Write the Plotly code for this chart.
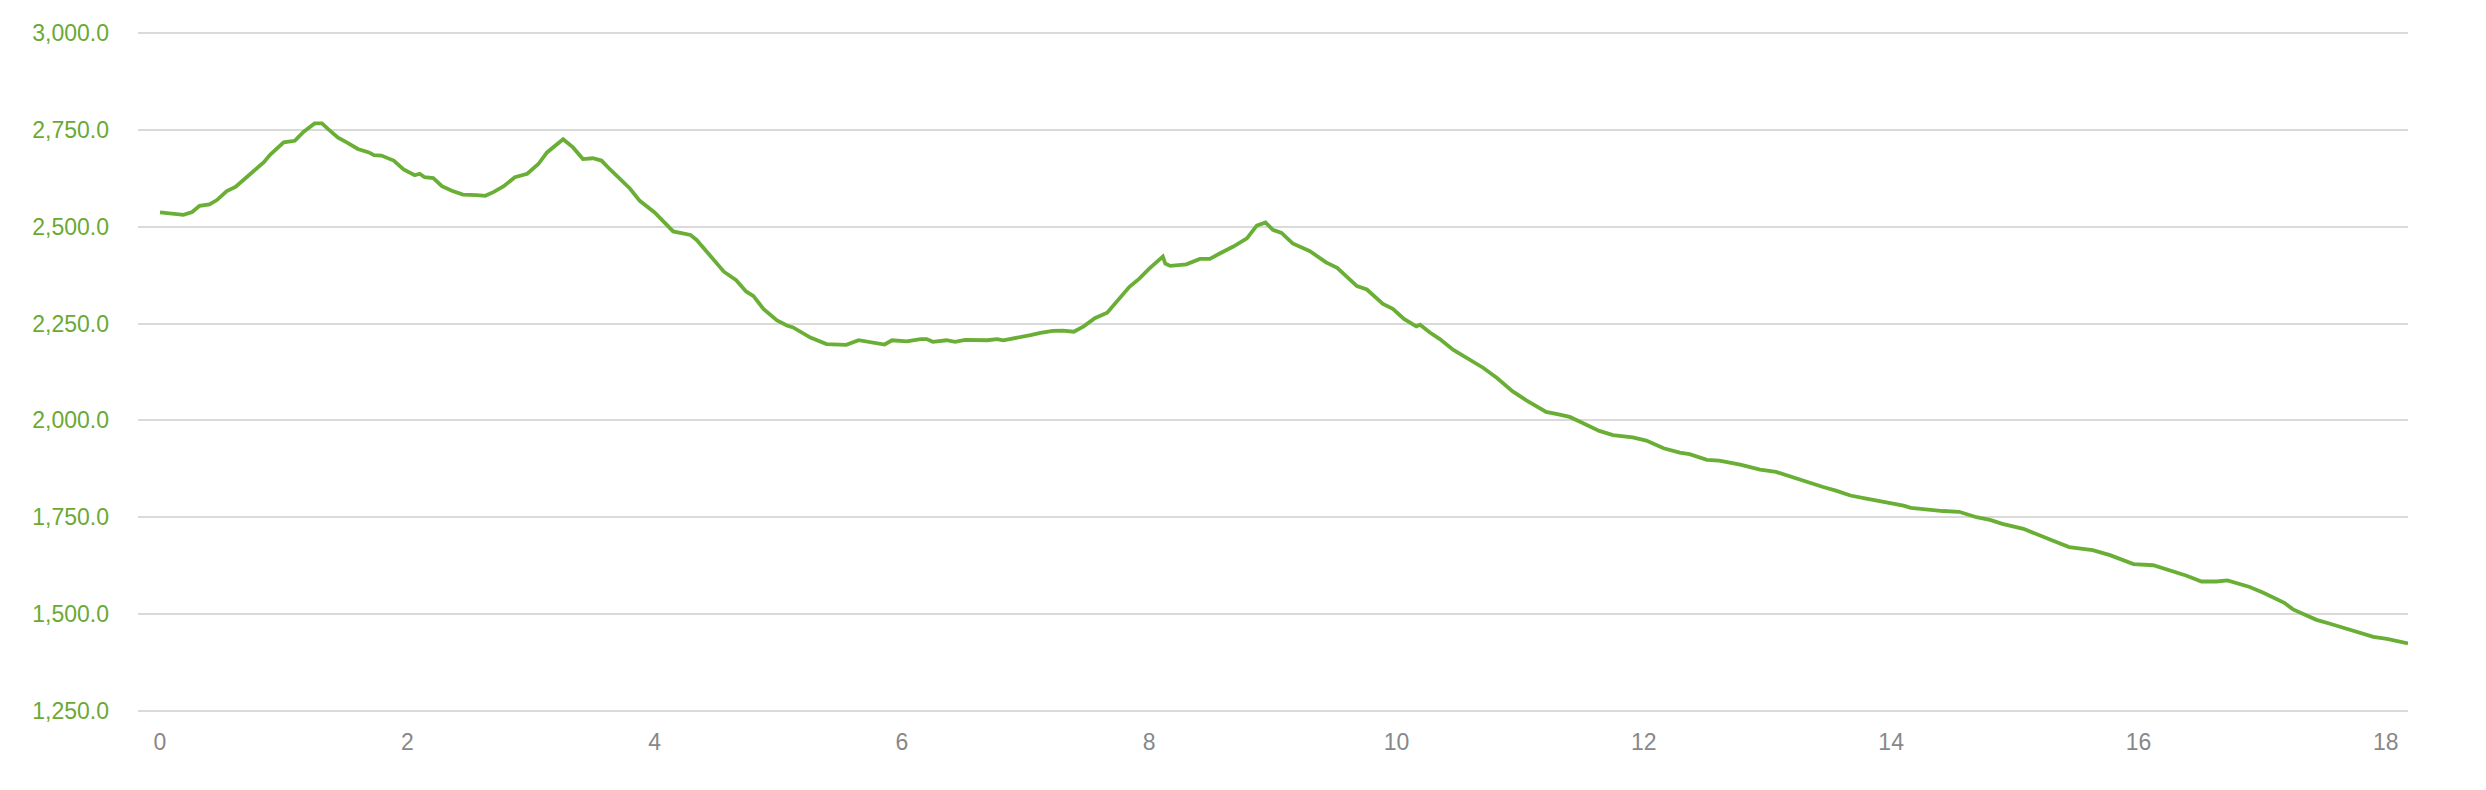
# Elevation profile chart
import plotly.graph_objects as go

# Distance along the route (km) and elevation (m)
distance_km = [
    0.00, 0.08, 0.16, 0.19, 0.26, 0.32, 0.40, 0.46, 0.54, 0.61,
    0.70, 0.76, 0.84, 0.89, 1.00, 1.09, 1.16, 1.25, 1.31, 1.36,
    1.44, 1.51, 1.60, 1.69, 1.73, 1.79, 1.89, 1.97, 2.06, 2.10,
    2.14, 2.21, 2.28, 2.36, 2.45, 2.56, 2.63, 2.70, 2.78, 2.87,
    2.97, 3.06, 3.13, 3.26, 3.34, 3.42, 3.50, 3.57, 3.64, 3.80,
    3.88, 4.00, 4.15, 4.29, 4.34, 4.45, 4.56, 4.66, 4.74, 4.80,
    4.88, 4.99, 5.07, 5.12, 5.18, 5.26, 5.39, 5.55, 5.65, 5.77,
    5.86, 5.92, 6.04, 6.15, 6.20, 6.25, 6.36, 6.43, 6.51, 6.69,
    6.77, 6.82, 6.95, 7.04, 7.12, 7.22, 7.30, 7.39, 7.47, 7.56,
    7.66, 7.76, 7.84, 7.92, 8.00, 8.11, 8.13, 8.17, 8.30, 8.41,
    8.49, 8.57, 8.68, 8.79, 8.87, 8.94, 9.00, 9.07, 9.16, 9.30,
    9.43, 9.52, 9.68, 9.76, 9.89, 9.97, 10.06, 10.16, 10.19, 10.27,
    10.35, 10.46, 10.57, 10.70, 10.81, 10.94, 11.05, 11.13, 11.21, 11.32,
    11.40, 11.48, 11.56, 11.64, 11.75, 11.91, 12.02, 12.16, 12.29, 12.37,
    12.51, 12.61, 12.78, 12.94, 13.07, 13.21, 13.34, 13.45, 13.56, 13.67,
    13.80, 13.91, 13.99, 14.10, 14.16, 14.31, 14.42, 14.55, 14.69, 14.80,
    14.90, 15.07, 15.18, 15.31, 15.44, 15.55, 15.63, 15.77, 15.88, 15.96,
    16.12, 16.25, 16.39, 16.51, 16.63, 16.72, 16.79, 16.90, 17.01, 17.12,
    17.18, 17.25, 17.33, 17.44, 17.55, 17.68, 17.79, 17.90, 18.01, 18.11,
    18.18,
]

elevation_m = [
    2537, 2535, 2534, 2531, 2538, 2554, 2558, 2569, 2592, 2603,
    2628, 2645, 2667, 2686, 2718, 2722, 2745, 2767, 2767, 2752,
    2730, 2718, 2701, 2692, 2685, 2684, 2671, 2648, 2633, 2637,
    2628, 2626, 2605, 2593, 2583, 2582, 2580, 2590, 2605, 2628,
    2637, 2662, 2692, 2726, 2705, 2675, 2677, 2671, 2648, 2599,
    2567, 2537, 2488, 2479, 2466, 2425, 2384, 2362, 2333, 2321,
    2288, 2258, 2245, 2240, 2229, 2214, 2197, 2195, 2207, 2201,
    2196, 2207, 2204, 2210, 2210, 2203, 2207, 2203, 2208, 2207,
    2210, 2207, 2214, 2220, 2226, 2231, 2232, 2229, 2243, 2264,
    2278, 2314, 2345, 2366, 2392, 2423, 2405, 2399, 2403, 2417,
    2417, 2431, 2449, 2470, 2503, 2511, 2492, 2484, 2457, 2437,
    2408, 2394, 2347, 2338, 2301, 2288, 2262, 2243, 2247, 2227,
    2210, 2182, 2162, 2136, 2110, 2075, 2052, 2038, 2022, 2015,
    2009, 1997, 1984, 1973, 1962, 1956, 1948, 1928, 1917, 1913,
    1898, 1896, 1886, 1873, 1867, 1852, 1839, 1828, 1818, 1806,
    1798, 1792, 1786, 1780, 1774, 1769, 1766, 1764, 1750, 1743,
    1733, 1720, 1707, 1689, 1673, 1668, 1665, 1652, 1640, 1629,
    1626, 1614, 1599, 1584, 1584, 1587, 1580, 1570, 1555, 1538,
    1529, 1512, 1501, 1485, 1475, 1463, 1452, 1441, 1436, 1429,
    1424,
]

x_ticks = [0, 2, 4, 6, 8, 10, 12, 14, 16, 18]
y_ticks = [1250, 1500, 1750, 2000, 2250, 2500, 2750, 3000]

LINE_COLOR = "#6aaf35"
LABEL_GREEN = "#6aa934"

fig = go.Figure(go.Scatter(
    x=distance_km,
    y=elevation_m,
    mode="lines",
    line=dict(color=LINE_COLOR, width=3.8),
    hoverinfo="skip",
))

# the page body adds an 8px offset, so the figure is a bit smaller than the window
fig.update_layout(
    width=2478,
    height=782,
    paper_bgcolor="white",
    plot_bgcolor="white",
    margin=dict(l=130, r=78, t=24, b=78),
    showlegend=False,
    font=dict(family="Liberation Sans, Arial, sans-serif", size=23),
)

fig.update_xaxes(
    range=[-0.178, 18.18],
    tickmode="array",
    tickvals=x_ticks,
    ticktext=[str(v) for v in x_ticks],
    showgrid=False,
    zeroline=False,
    showline=False,
    tickfont=dict(color="#888888", size=23),
    ticklabelstandoff=14,
)

fig.update_yaxes(
    range=[1247, 3003],
    tickmode="array",
    tickvals=y_ticks,
    ticktext=[f"{v:,.1f}" for v in y_ticks],
    showgrid=True,
    gridcolor="#dadada",
    gridwidth=2,
    zeroline=False,
    showline=False,
    tickfont=dict(color=LABEL_GREEN, size=23),
    ticklabelstandoff=28,
)

fig.write_html("out.html")
